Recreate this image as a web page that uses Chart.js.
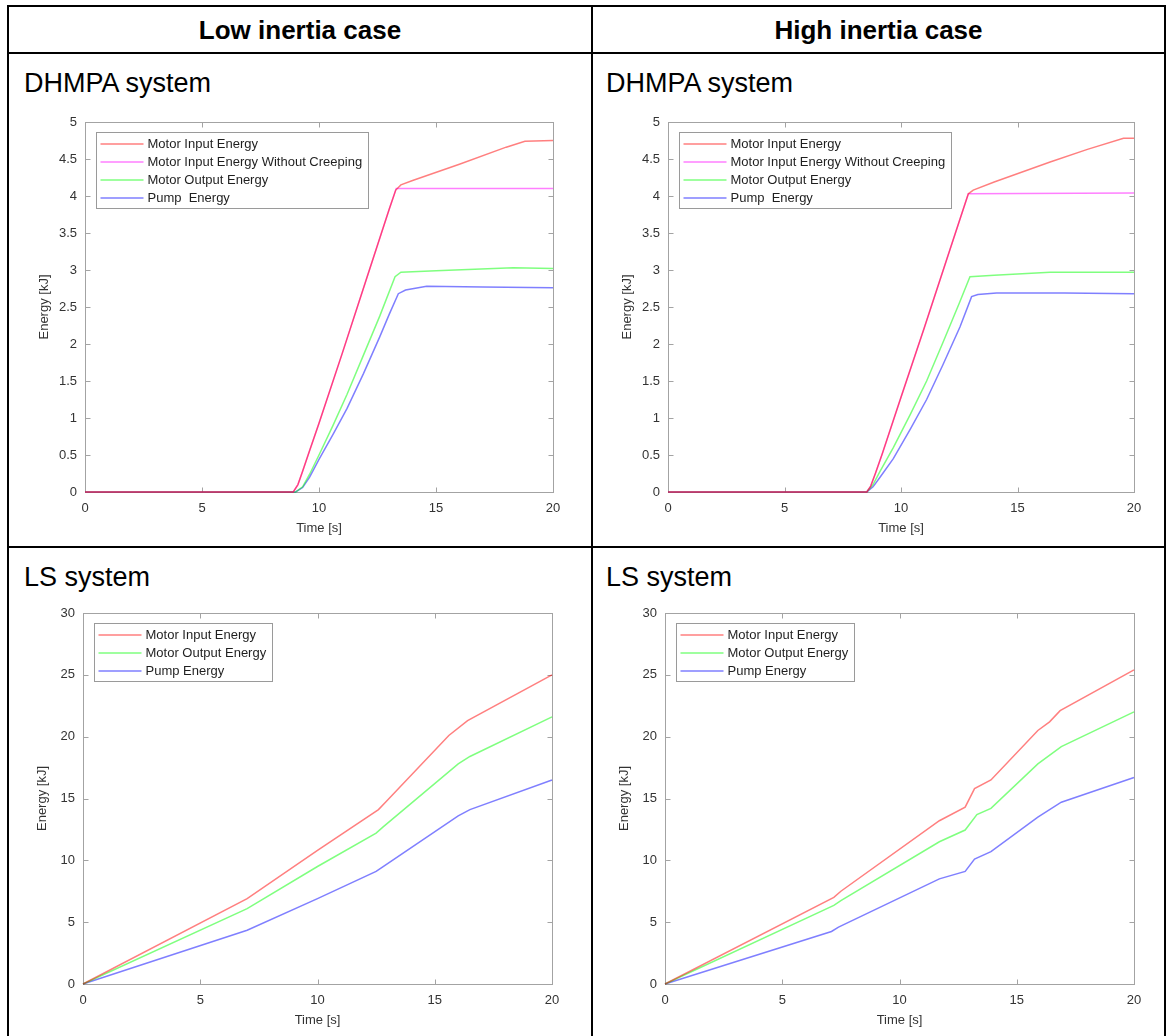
<!DOCTYPE html>
<html><head><meta charset="utf-8">
<script src="https://cdn.jsdelivr.net/npm/chart.js@4/dist/chart.umd.min.js"></script>
<style>
html,body{margin:0;padding:0;background:#fff;width:1166px;height:1036px;overflow:hidden;font-family:Arial,"Liberation Sans",sans-serif;}
.ln{position:absolute;background:#000;}
.hdr{position:absolute;top:7px;height:46px;display:flex;align-items:center;justify-content:center;font-weight:bold;font-size:26px;color:#000;white-space:nowrap;}
.lbl{position:absolute;font-size:27px;line-height:27px;color:#000;white-space:nowrap;}
canvas{position:absolute;}
</style></head><body>
<div class="ln" style="left:8px;top:5px;width:1158px;height:2px"></div>
<div class="ln" style="left:8px;top:52px;width:1158px;height:2px"></div>
<div class="ln" style="left:8px;top:546px;width:1158px;height:2px"></div>
<div class="ln" style="left:7px;top:5px;width:2px;height:1031px"></div>
<div class="ln" style="left:591px;top:5px;width:2px;height:1031px"></div>
<div class="ln" style="left:1164px;top:5px;width:2px;height:1031px"></div>
<div class="hdr" style="left:9px;width:582px">Low inertia case</div>
<div class="hdr" style="left:593px;width:571px">High inertia case</div>
<div class="lbl" style="left:24px;top:70px">DHMPA system</div>
<div class="lbl" style="left:606px;top:70px">DHMPA system</div>
<div class="lbl" style="left:24px;top:564px">LS system</div>
<div class="lbl" style="left:606px;top:564px">LS system</div>
<canvas id="c1"></canvas><canvas id="c2"></canvas><canvas id="c3"></canvas><canvas id="c4"></canvas>
<script>
// ---- DHMPA, low inertia ----
const dhLowInT  = [0, 8.9, 9.1, 9.3, 9.6, 10, 11, 12, 13, 13.28, 13.5, 14, 16, 18, 18.8, 20];
const dhLowInE  = [0, 0, 0.1, 0.28, 0.56, 0.93, 1.88, 2.85, 3.82, 4.08, 4.15, 4.21, 4.43, 4.66, 4.74, 4.75];
const dhLowNcT  = [0, 8.9, 9.1, 9.3, 9.6, 10, 11, 12, 13, 13.3, 20];
const dhLowNcE  = [0, 0, 0.1, 0.28, 0.56, 0.93, 1.88, 2.85, 3.82, 4.1, 4.1];
const dhLowOutT = [0, 9.0, 9.3, 9.6, 10, 10.6, 11.2, 11.9, 12.6, 13.25, 13.5, 15, 18.3, 20];
const dhLowOutE = [0, 0, 0.07, 0.24, 0.5, 0.9, 1.32, 1.85, 2.38, 2.91, 2.97, 2.99, 3.03, 3.02];
const dhLowPmT  = [0, 9.0, 9.3, 9.6, 10, 10.6, 11.2, 11.9, 12.6, 13.0, 13.39, 13.7, 14.6, 17, 20];
const dhLowPmE  = [0, 0, 0.06, 0.2, 0.44, 0.78, 1.13, 1.6, 2.1, 2.4, 2.68, 2.73, 2.78, 2.77, 2.76];
// ---- DHMPA, high inertia ----
const dhHighInT  = [0, 8.53, 8.7, 8.9, 9.2, 10, 11, 12, 12.89, 13.1, 14, 16.4, 18, 19.55, 20];
const dhHighInE  = [0, 0, 0.08, 0.25, 0.52, 1.28, 2.22, 3.18, 4.03, 4.08, 4.19, 4.46, 4.63, 4.78, 4.78];
const dhHighNcT  = [0, 8.53, 8.7, 8.9, 9.2, 10, 11, 12, 12.89, 20];
const dhHighNcE  = [0, 0, 0.08, 0.25, 0.52, 1.28, 2.22, 3.18, 4.03, 4.04];
const dhHighOutT = [0, 8.53, 8.8, 9.1, 9.67, 10.4, 11.1, 11.8, 12.5, 12.96, 14, 16.4, 20];
const dhHighOutE = [0, 0, 0.1, 0.28, 0.6, 1.05, 1.5, 2.02, 2.55, 2.91, 2.93, 2.97, 2.97];
const dhHighPmT  = [0, 8.53, 8.8, 9.1, 9.67, 10.4, 11.1, 11.8, 12.53, 13.03, 13.3, 14.1, 17, 20];
const dhHighPmE  = [0, 0, 0.07, 0.2, 0.45, 0.85, 1.25, 1.72, 2.23, 2.64, 2.67, 2.69, 2.69, 2.68];
// ---- LS, low inertia ----
const lsLowInT  = [0, 7, 10, 12.6, 12.9, 15.6, 16.4, 20];
const lsLowInE  = [0, 6.9, 10.8, 14.1, 14.7, 20.1, 21.3, 25.0];
const lsLowOutT = [0, 7, 10, 12.5, 12.8, 16, 16.5, 20];
const lsLowOutE = [0, 6.1, 9.5, 12.2, 12.7, 17.8, 18.4, 21.6];
const lsLowPmT  = [0, 7, 10, 12.5, 12.8, 16, 16.5, 20];
const lsLowPmE  = [0, 4.35, 6.9, 9.1, 9.5, 13.6, 14.1, 16.5];
// ---- LS, high inertia ----
const lsHighInT  = [0, 7.2, 7.5, 11.7, 12.8, 13.2, 13.9, 15.9, 16.4, 16.85, 20];
const lsHighInE  = [0, 7.0, 7.5, 13.2, 14.3, 15.8, 16.5, 20.5, 21.2, 22.1, 25.4];
const lsHighOutT = [0, 7.2, 7.5, 11.7, 12.8, 13.3, 13.9, 15.9, 16.9, 20];
const lsHighOutE = [0, 6.35, 6.75, 11.5, 12.45, 13.7, 14.2, 17.8, 19.2, 22.0];
const lsHighPmT  = [0, 7.1, 7.4, 11.7, 12.8, 13.2, 13.9, 15.9, 16.9, 20];
const lsHighPmE  = [0, 4.25, 4.6, 8.5, 9.1, 10.1, 10.7, 13.5, 14.7, 16.7];

const xTicks = [0, 5, 10, 15, 20];
const labIn = 'Motor Input Energy', labNc = 'Motor Input Energy Without Creeping',
      labOut = 'Motor Output Energy', labPumpD = 'Pump  Energy', labPump = 'Pump Energy';
const xTitle = 'Time [s]', yTitle = 'Energy [kJ]';

const RED = 'rgba(255,0,0,0.5)', MAG = 'rgba(255,0,255,0.5)', GRN = 'rgba(0,255,0,0.5)', BLU = 'rgba(0,0,255,0.5)';
const FONT = 'Arial, "Liberation Sans", sans-serif';

const boxPlugin = {
  id: 'mbox',
  beforeDatasetsDraw(chart) {
    const {ctx, chartArea: a, scales: {x, y}} = chart;
    ctx.save();
    ctx.strokeStyle = '#a3a3a3'; ctx.lineWidth = 1;
    const L = Math.round(a.left) + 0.5, T = Math.round(a.top) + 0.5, R = Math.round(a.right) + 0.5, B = Math.round(a.bottom) + 0.5;
    ctx.strokeRect(L, T, R - L, B - T);
    ctx.beginPath();
    x.ticks.forEach(t => { const p = Math.round(x.getPixelForValue(t.value)) + 0.5;
      ctx.moveTo(p, B); ctx.lineTo(p, B - 5); ctx.moveTo(p, T); ctx.lineTo(p, T + 5); });
    y.ticks.forEach(t => { const p = Math.round(y.getPixelForValue(t.value)) + 0.5;
      ctx.moveTo(L, p); ctx.lineTo(L + 5, p); ctx.moveTo(R, p); ctx.lineTo(R - 5, p); });
    ctx.stroke(); ctx.restore();
  }
};
const legendPlugin = {
  id: 'mleg',
  afterDatasetsDraw(chart) {
    const {ctx, chartArea: a} = chart;
    const ds = chart.data.datasets;
    ctx.save();
    ctx.font = '13px ' + FONT;
    const mw = Math.max(...ds.map(d => ctx.measureText(d.label).width));
    const bx = Math.round(a.left) + 11.5, by = Math.round(a.top) + 10.5;
    const bw = Math.round(51 + mw + 6), bh = ds.length * 18 + 4;
    ctx.fillStyle = '#fff'; ctx.fillRect(bx, by, bw, bh);
    ctx.strokeStyle = '#9a9a9a'; ctx.lineWidth = 1; ctx.strokeRect(bx, by, bw, bh);
    ds.forEach((d, i) => {
      const yy = by + 11.5 + i * 18;
      ctx.strokeStyle = d.borderColor; ctx.lineWidth = 1.5;
      ctx.beginPath(); ctx.moveTo(bx + 4, yy); ctx.lineTo(bx + 47, yy); ctx.stroke();
      ctx.fillStyle = '#1f1f1f'; ctx.textBaseline = 'middle'; ctx.textAlign = 'left';
      ctx.fillText(d.label, bx + 51, yy + 0.5);
    });
    ctx.restore();
  }
};

function makePanel(id, area, yMax, yStep, series) {
  const cv = document.getElementById(id);
  const cl = area.l - 75, ct = area.t - 20, cw = area.r + 25 - cl, ch = area.b + 50 - ct;
  cv.style.left = cl + 'px'; cv.style.top = ct + 'px';
  cv.width = cw; cv.height = ch; cv.style.width = cw + 'px'; cv.style.height = ch + 'px';
  const tickFont = {family: FONT, size: 13};
  new Chart(cv, {
    type: 'line',
    data: {datasets: series.map(s => ({
      label: s.label, data: s.t.map((t, i) => ({x: t, y: s.v[i]})),
      borderColor: s.color, backgroundColor: s.color, borderWidth: 1.5,
      pointRadius: 0, tension: 0, fill: false, clip: 6
    }))},
    options: {
      responsive: false, animation: false, devicePixelRatio: 1,
      layout: {padding: {left: 0, top: 20, right: 25, bottom: 0}},
      plugins: {legend: {display: false}, tooltip: {enabled: false}},
      scales: {
        x: {type: 'linear', min: 0, max: 20,
            afterBuildTicks: s => { s.ticks = xTicks.map(v => ({value: v})); },
            ticks: {padding: 9, color: '#333', font: tickFont, maxRotation: 0},
            grid: {display: false, drawTicks: false}, border: {display: false},
            title: {display: true, text: xTitle, color: '#333', font: tickFont, padding: {top: 0, bottom: 6}},
            afterFit: s => { s.height = 50; }},
        y: {type: 'linear', min: 0, max: yMax,
            ticks: {stepSize: yStep, padding: 8, color: '#333', font: tickFont,
                    callback: v => String(Math.round(v * 100) / 100)},
            grid: {display: false, drawTicks: false}, border: {display: false},
            title: {display: true, text: yTitle, color: '#333', font: tickFont, padding: {top: 27, bottom: 0}},
            afterFit: s => { s.width = 75; }}
      }
    },
    plugins: [boxPlugin, legendPlugin]
  });
}

makePanel('c1', {l: 85, r: 553, t: 122, b: 492}, 5, 0.5, [
  {label: labIn, color: RED, t: dhLowInT, v: dhLowInE},
  {label: labNc, color: MAG, t: dhLowNcT, v: dhLowNcE},
  {label: labOut, color: GRN, t: dhLowOutT, v: dhLowOutE},
  {label: labPumpD, color: BLU, t: dhLowPmT, v: dhLowPmE}]);
makePanel('c2', {l: 668, r: 1134, t: 122, b: 492}, 5, 0.5, [
  {label: labIn, color: RED, t: dhHighInT, v: dhHighInE},
  {label: labNc, color: MAG, t: dhHighNcT, v: dhHighNcE},
  {label: labOut, color: GRN, t: dhHighOutT, v: dhHighOutE},
  {label: labPumpD, color: BLU, t: dhHighPmT, v: dhHighPmE}]);
makePanel('c3', {l: 83, r: 552, t: 613, b: 984}, 30, 5, [
  {label: labIn, color: RED, t: lsLowInT, v: lsLowInE},
  {label: labOut, color: GRN, t: lsLowOutT, v: lsLowOutE},
  {label: labPump, color: BLU, t: lsLowPmT, v: lsLowPmE}]);
makePanel('c4', {l: 665, r: 1134, t: 613, b: 984}, 30, 5, [
  {label: labIn, color: RED, t: lsHighInT, v: lsHighInE},
  {label: labOut, color: GRN, t: lsHighOutT, v: lsHighOutE},
  {label: labPump, color: BLU, t: lsHighPmT, v: lsHighPmE}]);
</script>
</body></html>
